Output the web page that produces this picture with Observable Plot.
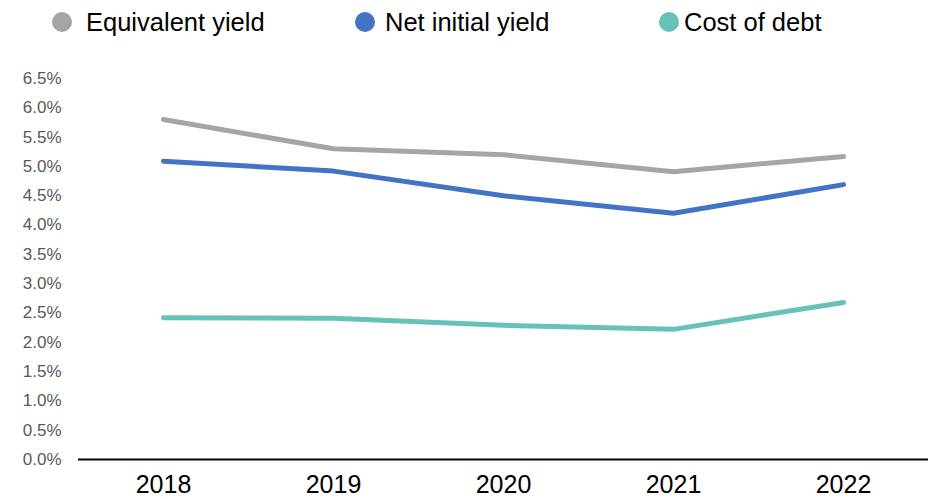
<!DOCTYPE html>
<html>
<head>
<meta charset="utf-8">
<script src="https://cdn.jsdelivr.net/npm/d3@7"></script>
<script src="https://cdn.jsdelivr.net/npm/@observablehq/plot@0.6"></script>
<style>
  html, body { margin: 0; padding: 0; background: #fff; }
  body { width: 928px; height: 499px; overflow: hidden; font-family: "Liberation Sans", Arial, sans-serif; }
  #legend { position: relative; height: 44px; width: 928px; }
  .item { position: absolute; top: 0; height: 44px; display: flex; align-items: center; font-size: 25.5px; color: #000; white-space: nowrap; }
  .sw { width: 20px; height: 20px; border-radius: 50%; display: inline-block; }
  svg { display: block; }
</style>
</head>
<body>
<div id="legend"></div>
<div id="chart"></div>
<script>
const years = ["2018", "2019", "2020", "2021", "2022"];
const equivalentYield = [5.8, 5.3, 5.2, 4.91, 5.17];
const netInitialYield = [5.09, 4.92, 4.5, 4.2, 4.69];
const costOfDebt = [2.42, 2.41, 2.29, 2.22, 2.68];
const seriesNames = ["Equivalent yield", "Net initial yield", "Cost of debt"];
const seriesColors = ["#A5A5A5", "#4472C4", "#66C2B9"];
const yTicks = [0, 0.5, 1, 1.5, 2, 2.5, 3, 3.5, 4, 4.5, 5, 5.5, 6, 6.5];

const seriesValues = [equivalentYield, netInitialYield, costOfDebt];
const data = [];
seriesNames.forEach((name, i) => {
  years.forEach((yr, j) => data.push({series: name, year: yr, value: seriesValues[i][j]}));
});

// legend
const legendPos = [
  {cx: 62, tx: 86},
  {cx: 365, tx: 385},
  {cx: 669, tx: 684}
];
const legend = document.getElementById("legend");
seriesNames.forEach((name, i) => {
  const sw = document.createElement("div");
  sw.className = "item";
  sw.style.left = (legendPos[i].cx - 10) + "px";
  sw.innerHTML = `<span class="sw" style="background:${seriesColors[i]}"></span>`;
  legend.appendChild(sw);
  const t = document.createElement("div");
  t.className = "item";
  t.style.left = legendPos[i].tx + "px";
  t.textContent = name;
  legend.appendChild(t);
});

const chart = Plot.plot({
  width: 928,
  height: 455,
  marginTop: 34,
  marginBottom: 40,
  marginLeft: 78,
  marginRight: 0,
  style: {fontFamily: "'Liberation Sans', Arial, sans-serif", background: "#fff"},
  x: {type: "band", domain: years, padding: 0, label: null},
  y: {domain: [0, 6.5], label: null},
  color: {domain: seriesNames, range: seriesColors},
  marks: [
    Plot.axisY({ticks: yTicks, tickSize: 0, tickPadding: 17, tickFormat: d => d.toFixed(1) + "%", fontSize: 17, fill: "#595959", label: null}),
    Plot.axisX({tickSize: 0, tickPadding: 16, fontSize: 25, fill: "#000", label: null}),
    Plot.ruleY([0], {stroke: "#000", strokeWidth: 2}),
    Plot.line(data, {x: "year", y: "value", z: "series", stroke: "series", strokeWidth: 5, strokeLinecap: "round", strokeLinejoin: "round"})
  ]
});
document.getElementById("chart").appendChild(chart);
</script>
</body>
</html>
